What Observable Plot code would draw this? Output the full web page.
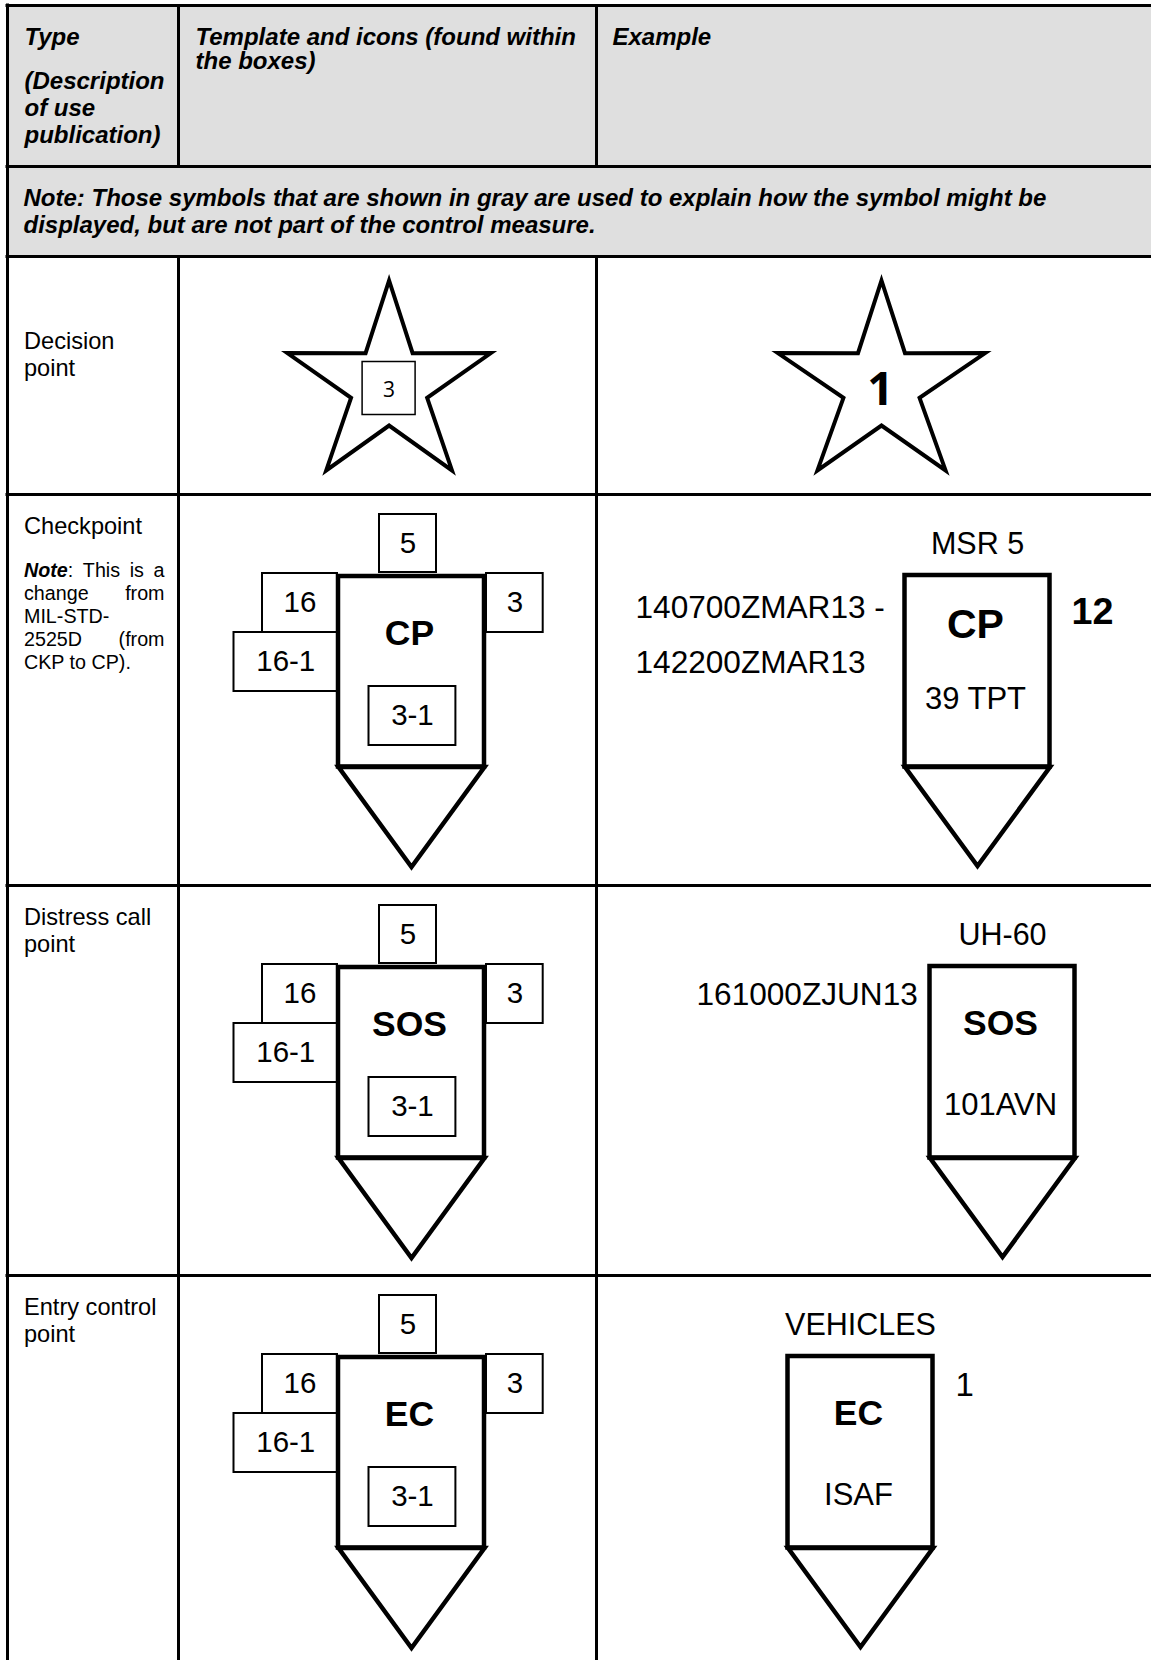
<!DOCTYPE html>
<html>
<head>
<meta charset="utf-8">
<script src="https://cdn.jsdelivr.net/npm/d3@7"></script>
<script src="https://cdn.jsdelivr.net/npm/@observablehq/plot@0.6"></script>
<style>
  html, body { margin: 0; padding: 0; background: #fff; }
  #chart svg { display: block; }
</style>
</head>
<body>
<div id="chart"></div>
<script>
// ---------------- data (text content of the table) ----------------
const headerTitles = [["Type"], ["Template and icons (found within", "the boxes)"], ["Example"]];
const typeDescription = ["(Description", "of use", "publication)"];
const noteLines = [
  "Note: Those symbols that are shown in gray are used to explain how the symbol might be",
  "displayed, but are not part of the control measure."
];
const rowTypes = [["Decision", "point"], ["Checkpoint"], ["Distress call", "point"], ["Entry control", "point"]];
const checkpointNoteLead = "Note";
const checkpointNoteLines = [": This is a", "change from", "MIL-STD-", "2525D (from", "CKP to CP)."];
const decisionTemplateField = "3";
const decisionExampleValue = "1";
const templateCodes = ["CP", "SOS", "EC"];
const fieldIds = ["5", "16", "16-1", "3", "3-1"];
const exampleAbove = ["MSR 5", "UH-60", "VEHICLES"];
const exampleCodes = ["CP", "SOS", "EC"];
const exampleBelow = ["39 TPT", "101AVN", "ISAF"];
const exampleLeft = [["140700ZMAR13 -", "142200ZMAR13"], ["161000ZJUN13"], []];
const exampleRight = ["12", "", "1"];

// ---------------- layout ----------------
const W = 1151, H = 1660;
const colX = [7, 178, 596];
const rowY = [5, 166, 256, 494, 885, 1275, H];
const SANS = "'Liberation Sans', Arial, Helvetica, sans-serif";
const ROUND = "'Open Sans', 'Noto Sans', sans-serif";

// template geometry relative to (cx, row top)
const tplCx = 411;
const tplBody = [-73, 82, 73, 272.5];
const tplApex = 372.5;
const tplFieldBoxes = {
  "5": [-32, 20, 25, 78],
  "16": [-149, 79, -74, 138],
  "16-1": [-177.5, 138, -74, 197],
  "3": [75, 79, 131.7, 138],
  "3-1": [-42.5, 192, 44.4, 251]
};
const tplCodeDy = 139;

// example geometry
const exCx = [977, 1002, 860];
const exHalf = 72.5, exTop = 81, exBottom = 272.5, exApex = 371.5;
const exAboveDy = 50;
const exCodeDy = [130, 138, 138];
const exCodeSize = [41, 35.5, 35.5];
const exBelowDy = [205, 220, 220];
const exLeftX = [635, 696, 0];
const exLeftDy = [113, 168];
const exLeftDySingle = 109;
const exRightX = [1071, 0, 955];
const exRightDy = [117, 0, 110];
const exRightWeight = ["bold", "normal", "normal"];
const exRightSize = [37.7, 33, 33];

// decision stars
const stars = [{cx: 388.6, cy: 385, rx: 107, ry: 105}, {cx: 881, cy: 385, rx: 109, ry: 105}];
const starr = 40;

const marks = [];
function label(items, o = {}) {
  marks.push(Plot.text(items, {
    x: "x", y: "y", text: "text", fill: "black", fontFamily: SANS,
    textAnchor: "start", lineAnchor: "bottom", ...o
  }));
}

// ---- shaded header rows ----
marks.push(Plot.rect([{x1: colX[0], x2: W, y1: rowY[0], y2: rowY[2]}],
  {x1: "x1", x2: "x2", y1: "y1", y2: "y2", fill: "#dfdfdf"}));

// ---- grid lines ----
const hLines = rowY.slice(0, 6).map(y => ({y, x1: colX[0] - 1.5, x2: W}));
marks.push(Plot.ruleY(hLines, {y: "y", x1: "x1", x2: "x2", stroke: "black", strokeWidth: 3}));
const vLines = [{x: colX[0], y1: rowY[0] - 1.5, y2: H}];
for (const cx of colX.slice(1)) {
  vLines.push({x: cx, y1: rowY[0], y2: rowY[1]});
  vLines.push({x: cx, y1: rowY[2], y2: H});
}
marks.push(Plot.ruleX(vLines, {x: "x", y1: "y1", y2: "y2", stroke: "black", strokeWidth: 3}));

// ---- header texts ----
const HEAD = {fontSize: 24, fontWeight: "bold", fontStyle: "italic"};
const headerX = [24, 195, 612];
const headItems = headerTitles.flatMap((lines, c) => lines.map((t, i) => ({x: headerX[c], y: 44 + i * 24, text: t})));
typeDescription.forEach((t, i) => headItems.push({x: headerX[0], y: 88 + i * 27.3, text: t}));
label(headItems, HEAD);
label(noteLines.map((t, i) => ({x: 23, y: 205 + i * 27, text: t})), HEAD);

// ---- row type labels ----
const typeDy = [92, 39, 39, 39];
label(rowTypes.flatMap((lines, r) => lines.map((t, i) => ({x: 23.5, y: rowY[2 + r] + typeDy[r] + i * 27, text: t}))), {fontSize: 23.6});

// ---- justified checkpoint note ----
const ctx = document.createElement("canvas").getContext("2d");
function measure(s, size, weight, style) {
  ctx.font = `${style} ${weight} ${size}px 'Liberation Sans'`;
  return ctx.measureText(s).width;
}
const NOTE_SIZE = 19.7, noteX0 = 23.5, noteX1 = 164, noteY0 = rowY[3] + 82, noteStep = 23;
const noteRegular = [], noteBold = [];
checkpointNoteLines.forEach((line, li) => {
  const y = noteY0 + li * noteStep;
  let tokens = line.split(" ").filter(Boolean).map(t => ({text: t, weight: "normal", style: "normal", glue: false}));
  if (li === 0) {
    tokens[0].glue = true;
    tokens.unshift({text: checkpointNoteLead, weight: "bold", style: "italic", glue: false});
  }
  const last = li === checkpointNoteLines.length - 1;
  if (last || tokens.length < 2) {
    noteRegular.push({x: noteX0, y, text: line});
    return;
  }
  tokens.forEach(t => t.w = measure(t.text, NOTE_SIZE, t.weight, t.style));
  const gaps = tokens.filter((t, i) => i > 0 && !t.glue).length;
  const free = (noteX1 - noteX0) - d3.sum(tokens, t => t.w);
  const gap = free / gaps;
  let x = noteX0;
  tokens.forEach((t, i) => {
    if (i > 0 && !t.glue) x += gap;
    (t.weight === "bold" ? noteBold : noteRegular).push({x, y, text: t.text});
    x += t.w;
  });
});
label(noteRegular, {fontSize: NOTE_SIZE});
label(noteBold, {fontSize: NOTE_SIZE, fontWeight: "bold", fontStyle: "italic"});

// ---- decision point stars ----
const starPts = stars.flatMap((s, si) => d3.range(10).map(k => {
  const a = (-90 + k * 36) * Math.PI / 180;
  const rx = k % 2 ? starr : s.rx, ry = k % 2 ? starr : s.ry;
  return {id: si, x: s.cx + rx * Math.cos(a), y: s.cy + ry * Math.sin(a)};
}));
marks.push(Plot.line(starPts, {x: "x", y: "y", z: "id", curve: "linear-closed", stroke: "black", strokeWidth: 4, strokeLinejoin: "miter", strokeMiterlimit: 10}));
const sBox = [{x1: stars[0].cx - 26.5, x2: stars[0].cx + 26.5, y1: stars[0].cy - 23.5, y2: stars[0].cy + 29.5}];
marks.push(Plot.rect(sBox, {x1: "x1", x2: "x2", y1: "y1", y2: "y2", fill: "white", stroke: "black", strokeWidth: 1.5}));
label([{x: stars[0].cx, y: stars[0].cy + 4.5, text: decisionTemplateField}], {fontFamily: ROUND, fontSize: 21, textAnchor: "middle", lineAnchor: "middle"});
label([{x: stars[1].cx - 1, y: stars[1].cy + 4.5, text: decisionExampleValue}], {fontFamily: ROUND, fontSize: 46, fontWeight: "bold", textAnchor: "middle", lineAnchor: "middle"});

// ---- templates (checkpoint, distress call, entry control) ----
const tplBoxes = [], tplFieldText = [], tplBodies = [], triPts = [], tplCodeText = [];
templateCodes.forEach((code, r) => {
  const top = rowY[3 + r];
  fieldIds.forEach(f => {
    const [a, b, c, d] = tplFieldBoxes[f];
    tplBoxes.push({x1: tplCx + a, x2: tplCx + c, y1: top + b, y2: top + d});
    tplFieldText.push({x: tplCx + (a + c) / 2, y: top + (b + d) / 2, text: f});
  });
  tplBodies.push({x1: tplCx + tplBody[0], x2: tplCx + tplBody[2], y1: top + tplBody[1], y2: top + tplBody[3]});
  triPts.push({id: "t" + r, x: tplCx + tplBody[0], y: top + tplBody[3]},
              {id: "t" + r, x: tplCx + tplBody[2], y: top + tplBody[3]},
              {id: "t" + r, x: tplCx, y: top + tplApex});
  tplCodeText.push({x: tplCx - 2, y: top + tplCodeDy, text: code});
});

// ---- examples ----
const exBodies = [], exAboveText = [], exBelowText = [], exLeftText = [];
exampleCodes.forEach((code, r) => {
  const top = rowY[3 + r], cx = exCx[r];
  exBodies.push({x1: cx - exHalf, x2: cx + exHalf, y1: top + exTop, y2: top + exBottom});
  triPts.push({id: "e" + r, x: cx - exHalf, y: top + exBottom},
              {id: "e" + r, x: cx + exHalf, y: top + exBottom},
              {id: "e" + r, x: cx, y: top + exApex});
  exAboveText.push({x: cx, y: top + exAboveDy, text: exampleAbove[r]});
  exBelowText.push({x: cx - 2, y: top + exBelowDy[r], text: exampleBelow[r]});
  const left = exampleLeft[r];
  left.forEach((t, i) => exLeftText.push({x: exLeftX[r], y: top + (left.length > 1 ? exLeftDy[i] : exLeftDySingle), text: t}));
  label([{x: cx - 2, y: top + exCodeDy[r], text: code}], {fontSize: exCodeSize[r], fontWeight: "bold", textAnchor: "middle", lineAnchor: "middle"});
  if (exampleRight[r]) {
    label([{x: exRightX[r], y: top + exRightDy[r], text: exampleRight[r]}],
      {fontSize: exRightSize[r], fontWeight: exRightWeight[r], lineAnchor: "middle"});
  }
});

marks.push(Plot.rect(tplBoxes, {x1: "x1", x2: "x2", y1: "y1", y2: "y2", fill: "white", stroke: "black", strokeWidth: 2}));
marks.push(Plot.line(triPts, {x: "x", y: "y", z: "id", curve: "linear-closed", stroke: "black", strokeWidth: 4.5, strokeLinejoin: "miter", strokeMiterlimit: 10}));
marks.push(Plot.rect(tplBodies.concat(exBodies), {x1: "x1", x2: "x2", y1: "y1", y2: "y2", fill: "none", stroke: "black", strokeWidth: 4.5}));
label(tplFieldText, {fontSize: 29.5, textAnchor: "middle", lineAnchor: "middle"});
label(tplCodeText, {fontSize: 35.5, fontWeight: "bold", textAnchor: "middle", lineAnchor: "middle"});
label(exAboveText, {fontSize: 30.5, textAnchor: "middle", lineAnchor: "middle"});
label(exBelowText, {fontSize: 31, textAnchor: "middle", lineAnchor: "middle"});
label(exLeftText, {fontSize: 31.6, lineAnchor: "middle"});

const chart = Plot.plot({
  width: W, height: H, margin: 0,
  x: {domain: [0, W], range: [0, W], axis: null},
  y: {domain: [0, H], range: [0, H], axis: null},
  style: {fontFamily: SANS, background: "white", overflow: "hidden"},
  marks
});

document.getElementById("chart").append(chart);
</script>
</body>
</html>
